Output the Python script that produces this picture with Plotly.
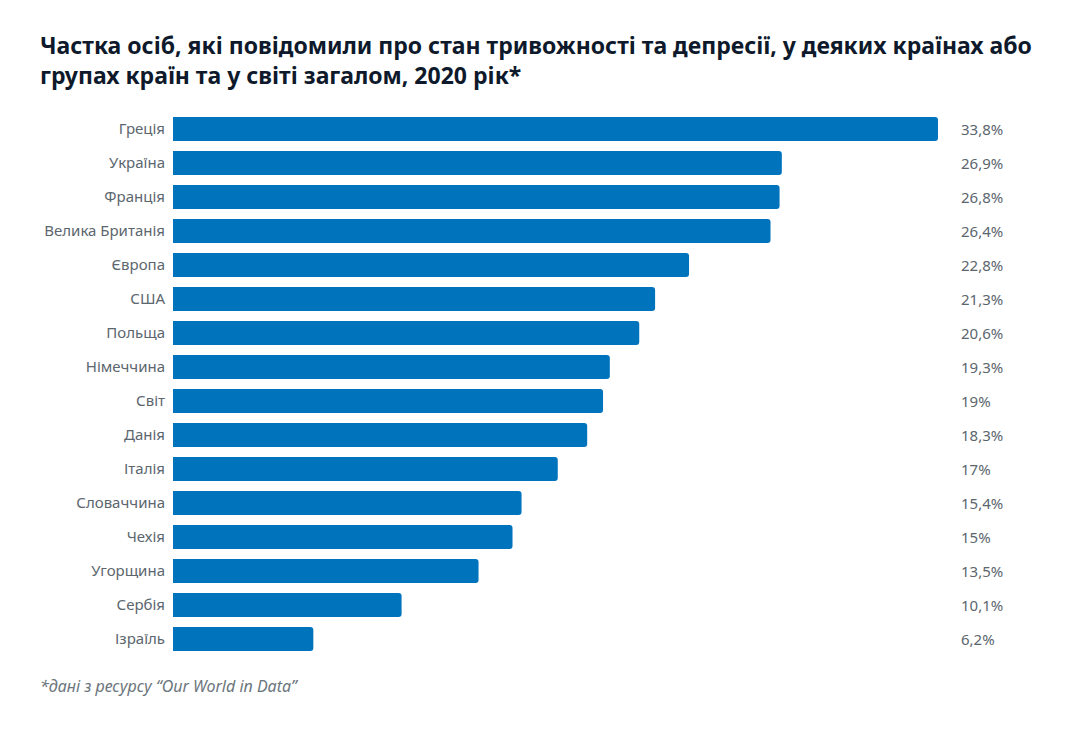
import plotly.graph_objects as go

countries = ["Греція", "Україна", "Франція", "Велика Британія", "Європа", "США", "Польща",
             "Німеччина", "Світ", "Данія", "Італія", "Словаччина", "Чехія", "Угорщина",
             "Сербія", "Ізраїль"]
values = [33.8, 26.9, 26.8, 26.4, 22.8, 21.3, 20.6, 19.3, 19.0, 18.3, 17.0, 15.4, 15.0, 13.5, 10.1, 6.2]
value_labels = [f"{v:g}".replace(".", ",") + "%" for v in values]

title_text = ("Частка осіб, які повідомили про стан тривожності та депресії, у деяких країнах або<br>"
              "групах країн та у світі загалом, 2020 рік*")
footnote = "*дані з ресурсу “Our World in Data”"

FONT = "Noto Sans"
GREY = "#5b666e"

W, H = 1087, 743
L, R, T, B = 165, 157, 104, 95
PW, PH = W - L - R, H - T - B

fig = go.Figure()
fig.add_trace(go.Bar(
    x=values, y=countries, orientation="h",
    marker=dict(color="#0073bd", cornerradius=3, line=dict(width=0)),
    hoverinfo="x+y",
))

for c, lab in zip(countries, value_labels):
    fig.add_annotation(x=1, xref="paper", y=c, yref="y", text=lab, showarrow=False,
                       xanchor="left", xshift=21, font=dict(family=FONT, size=15, color=GREY))

fig.add_annotation(x=(30 - L) / PW, xref="paper", y=-(678 - (H - B)) / PH, yref="paper",
                   text="<i>" + footnote + "</i>", showarrow=False, xanchor="left", yanchor="middle",
                   font=dict(family=FONT, size=16, color="#6b757c"))

fig.update_layout(
    width=W, height=H,
    margin=dict(l=L, r=R, t=T, b=B),
    paper_bgcolor="white", plot_bgcolor="white",
    bargap=0.3,
    showlegend=False,
    title=dict(text="<b>" + title_text + "</b>", x=32 / W, xanchor="left", xref="container",
               y=1 - 46 / H, yanchor="top", yref="container",
               font=dict(family=FONT, size=23, color="#0e1a2b")),
    xaxis=dict(range=[0, 33.8], visible=False, fixedrange=True),
    yaxis=dict(autorange="reversed", showgrid=False, zeroline=False, showline=False, ticks="",
               ticklabelstandoff=7, tickfont=dict(family=FONT, size=15, color=GREY)),
)

fig.write_html("out.html")
